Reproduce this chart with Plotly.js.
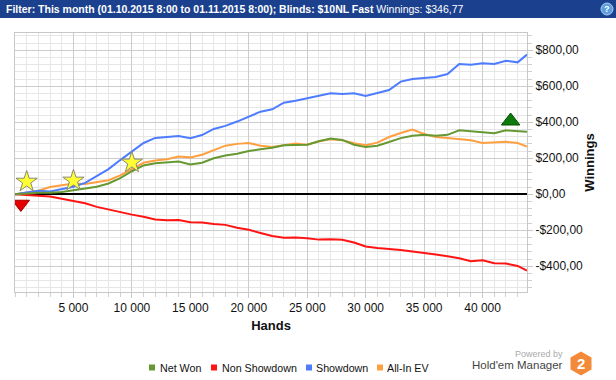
<!DOCTYPE html>
<html>
<head>
<meta charset="utf-8">
<script src="https://cdn.plot.ly/plotly-3.0.1.min.js"></script>
<style>
  html, body { margin: 0; padding: 0; background: #fff; }
  #chart { width: 616px; height: 380px; }
</style>
</head>
<body>
<div id="chart"></div>
<script>
// ---------------- DATA ----------------
const hands = [0,1000,2000,3000,4000,5000,6000,7000,8000,9000,10000,11000,12000,13000,14000,15000,16000,17000,18000,19000,20000,21000,22000,23000,24000,25000,26000,27000,28000,29000,30000,31000,32000,33000,34000,35000,36000,37000,38000,39000,40000,41000,42000,43000,43800];
const netWon = [0,5,8,8,12,22,30,42,60,90,128,160,172,175,182,165,175,200,215,225,240,250,258,272,272,275,295,310,302,275,262,270,290,312,325,330,325,330,355,350,345,339,355,350,347];
const nonShowdown = [0,-3,-6,-13,-25,-38,-50,-70,-85,-97,-113,-125,-140,-145,-143,-155,-157,-165,-170,-186,-197,-215,-232,-241,-240,-245,-252,-250,-253,-268,-290,-298,-302,-310,-318,-325,-335,-345,-355,-372,-367,-383,-385,-398,-424];
const showdown = [0,10,20,15,30,42,63,102,140,190,235,285,313,320,324,311,329,363,380,404,431,459,472,509,520,533,546,561,557,561,546,561,579,626,640,646,652,668,724,720,728,724,742,733,776];
const allInEV = [0,12,20,40,50,60,57,68,78,105,140,175,188,195,210,205,220,245,270,280,285,270,262,272,282,275,295,305,300,283,272,287,318,340,360,335,318,312,305,300,285,290,292,285,265];

const starHands = [1000, 5000, 10000];
const starValues = [70, 76, 176];
const lowHands = [500];
const lowValues = [-54];
const highHands = [42400];
const highValues = [407];

const seriesNames = ["Net Won", "Non Showdown", "Showdown", "All-In EV"];
const seriesColors = ["#669933", "#ff1414", "#4d7cff", "#ffa040"];

const xTickVals = [5000,10000,15000,20000,25000,30000,35000,40000];
const xTickText = ["5 000","10 000","15 000","20 000","25 000","30 000","35 000","40 000"];
const yTickVals = [-400,-200,0,200,400,600,800];
const yTickText = ["-$400,00","-$200,00","$0,00","$200,00","$400,00","$600,00","$800,00"];

const headerBold = "Filter: This month (01.10.2015 8:00 to 01.11.2015 8:00); Blinds: $10NL Fast";
const headerRest = "Winnings: $346,77";

// ---------------- LAYOUT HELPERS ----------------
const W = 616, H = 380;
const M = { l: 15, r: 89, t: 33, b: 88 };
const PW = W - M.l - M.r, PH = H - M.t - M.b;
const px = x => (x - M.l) / PW;
const py = y => (H - M.b - y) / PH;
const FONT = "Liberation Sans, Arial, sans-serif";

const seriesData = [netWon, nonShowdown, showdown, allInEV];
const drawOrder = [3, 2, 1, 0];
const traces = drawOrder.map(i => ({
  type: "scatter", mode: "lines", x: hands, y: seriesData[i],
  name: seriesNames[i], showlegend: false, hoverinfo: "skip",
  line: { color: seriesColors[i], width: 2 }
}));
traces.push({
  type: "scatter", mode: "markers", x: starHands, y: starValues, showlegend: false, hoverinfo: "skip",
  marker: { symbol: "star", size: 16, color: "#ffff33", line: { color: "#8a8a70", width: 1 } }
});
traces.push({
  type: "scatter", mode: "markers", x: lowHands, y: lowValues, showlegend: false, hoverinfo: "skip",
  marker: { symbol: "triangle-down", size: 15, color: "#e80000", line: { color: "#a00000", width: 1 } }
});
traces.push({
  type: "scatter", mode: "markers", x: highHands, y: highValues, showlegend: false, hoverinfo: "skip",
  marker: { symbol: "triangle-up", size: 16, color: "#0a7a0a", line: { color: "#055005", width: 1 } }
});

const shapes = [];
const annotations = [];

// header bar
shapes.push({ type: "rect", xref: "paper", yref: "paper", x0: px(0), x1: px(W), y0: py(0), y1: py(18),
  fillcolor: "#1b418e", line: { width: 0 }, layer: "above" });
annotations.push({ xref: "paper", yref: "paper", x: px(4), y: py(9), xanchor: "left", yanchor: "middle",
  showarrow: false, text: "<b>" + headerBold + "</b> " + headerRest,
  font: { family: FONT, size: 10.5, color: "#ffffff" } });
// help icon
shapes.push({ type: "circle", xref: "paper", yref: "paper", x0: px(601), x1: px(613), y0: py(3), y1: py(15),
  fillcolor: "#5d9fe0", line: { color: "#a8ccf0", width: 1 }, layer: "above" });
annotations.push({ xref: "paper", yref: "paper", x: px(607), y: py(9), xanchor: "center", yanchor: "middle",
  showarrow: false, text: "<b>?</b>", font: { family: FONT, size: 9, color: "#ffffff" } });

// custom legend
const legendPos = [[149, 158], [211, 220], [306, 314], [377, 385]];
seriesNames.forEach((n, i) => {
  const [sx, tx] = legendPos[i];
  shapes.push({ type: "rect", xref: "paper", yref: "paper", x0: px(sx), x1: px(sx + 6), y0: py(364.5), y1: py(370.5),
    fillcolor: seriesColors[i], line: { width: 0 } });
  annotations.push({ xref: "paper", yref: "paper", x: px(tx), y: py(367.5), xanchor: "left", yanchor: "middle",
    showarrow: false, text: n, font: { family: FONT, size: 10.7, color: "#111" } });
});

// logo
annotations.push({ xref: "paper", yref: "paper", x: px(565), y: py(354), xanchor: "right", yanchor: "middle",
  showarrow: false, text: "Powered by", font: { family: FONT, size: 9, color: "#aaaaaa" } });
annotations.push({ xref: "paper", yref: "paper", x: px(565), y: py(365), xanchor: "right", yanchor: "middle",
  showarrow: false, text: "Hold'em Manager", font: { family: FONT, size: 11.5, color: "#444444" } });
const hex = [[581, 351.5], [591.5, 357.5], [591.5, 369.5], [581, 375.5], [570.5, 369.5], [570.5, 357.5]];
shapes.push({ type: "path", xref: "paper", yref: "paper",
  path: "M" + hex.map(p => px(p[0]) + "," + py(p[1])).join(" L") + " Z",
  fillcolor: "#f28a3a", line: { width: 0 } });
annotations.push({ xref: "paper", yref: "paper", x: px(581), y: py(364), xanchor: "center", yanchor: "middle",
  showarrow: false, text: "<b>2</b>", font: { family: FONT, size: 15, color: "#ffffff" } });

const layout = {
  width: W, height: H,
  margin: M,
  paper_bgcolor: "#ffffff", plot_bgcolor: "#ffffff",
  font: { family: FONT, size: 12, color: "#111" },
  showlegend: false,
  xaxis: {
    range: [0, 43800], tickmode: "array", tickvals: xTickVals, ticktext: xTickText,
    showgrid: true, gridcolor: "#cccccc", gridwidth: 1,
    zeroline: false, showline: true, linecolor: "#c8c8c8", linewidth: 1, mirror: true,
    ticks: "outside", ticklen: 5, tickcolor: "#c8c8c8",
    tickfont: { family: FONT, size: 12, color: "#111" },
    minor: { tickmode: "linear", tick0: 0, dtick: 1000, showgrid: true, gridcolor: "#e6e6e6", gridwidth: 1,
      ticks: "outside", ticklen: 4, tickcolor: "#d0d0d0" },
    title: { text: "<b>Hands</b>", font: { family: FONT, size: 13, color: "#111" }, standoff: 6 }
  },
  yaxis: {
    range: [-543, 896], side: "right", tickmode: "array", tickvals: yTickVals, ticktext: yTickText,
    showgrid: true, gridcolor: "#cccccc", gridwidth: 1,
    zeroline: true, zerolinecolor: "#000000", zerolinewidth: 2,
    showline: true, linecolor: "#c8c8c8", linewidth: 1, mirror: true,
    ticks: "outside", ticklen: 5, tickcolor: "#c8c8c8",
    tickfont: { family: FONT, size: 12, color: "#111" },
    minor: { tickmode: "linear", tick0: 0, dtick: 40, showgrid: true, gridcolor: "#e6e6e6", gridwidth: 1,
      ticks: "outside", ticklen: 4, tickcolor: "#d0d0d0" },
    title: { text: "<b>Winnings</b>", font: { family: FONT, size: 13, color: "#111" }, standoff: 2 }
  },
  shapes: shapes,
  annotations: annotations
};

Plotly.newPlot("chart", traces, layout, { staticPlot: true, displayModeBar: false });
</script>
</body>
</html>
